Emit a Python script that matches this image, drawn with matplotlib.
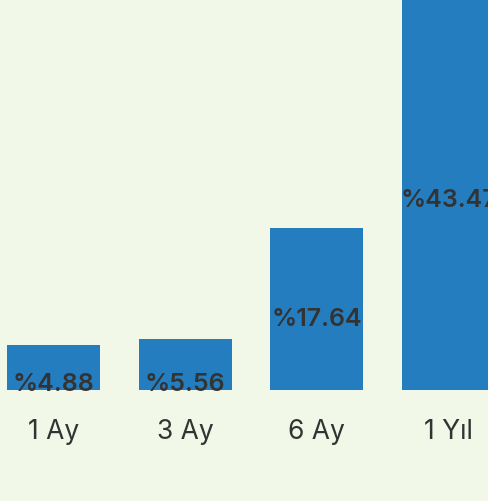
import matplotlib

matplotlib.use("Agg")
import matplotlib.pyplot as plt

# veriler
periods = ["1 Ay", "3 Ay", "6 Ay", "1 Yıl"]
returns = [4.88, 5.56, 17.64, 43.47]

BG = "#f1f8e8"
BAR = "#247dbf"
TXT = "#333333"

fig = plt.figure(figsize=(4.88, 5.01), dpi=100, facecolor=BG)
ax = fig.add_axes([0, 1 - 390 / 501, 1, 390 / 501])
ax.set_facecolor(BG)

x = range(len(periods))
ax.bar(x, returns, width=0.706, color=BAR)
ax.set_xlim(-0.406, 3.30)
ax.set_ylim(0, 42.44)

for i, v in enumerate(returns):
    # kısa çubuklarda etiket tabana yakın
    y = v / 2 - 1.12 if v > 10 else 0.6
    ax.text(i, y, f"%{v:.2f}", ha="center", va="center",
            fontsize=18, fontweight="semibold", color=TXT, family="Inter",
            clip_on=False)

ax.set_xticks(list(x))
ax.set_xticklabels(periods, fontsize=19, color=TXT, family="Inter")
ax.tick_params(axis="x", length=0, pad=21)
ax.set_yticks([])
for s in ax.spines.values():
    s.set_visible(False)

fig.savefig("out.png", dpi=100, facecolor=BG)
